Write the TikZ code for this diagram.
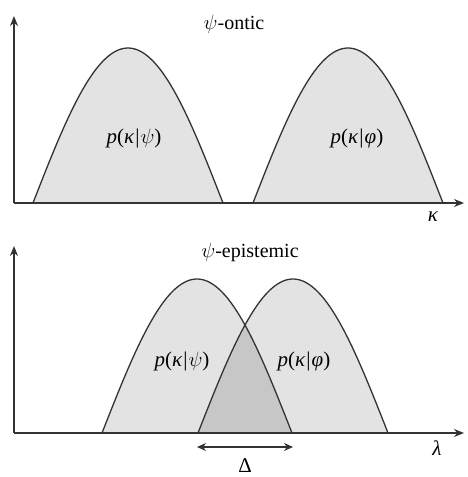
\documentclass[tikz,border=0pt]{standalone}
\usepackage{fontspec}
\setmainfont{Liberation Serif}
\usetikzlibrary{arrows.meta}
\definecolor{bumpfill}{gray}{0.89}
\definecolor{overfill}{gray}{0.78}
\definecolor{linecol}{gray}{0.2}
\tikzset{
  axis/.style={line width=1.6pt, draw=linecol, -{Stealth[length=10pt,width=8pt]}},
  curve/.style={line width=1.3pt, draw=linecol},
  lbl/.style={font=\fontsize{21}{24}\selectfont, inner sep=0pt},
  ttl/.style={font=\fontsize{20}{24}\selectfont, inner sep=0pt},
  deltaarrow/.style={line width=1.3pt, draw=linecol, {Stealth[length=9pt,width=8pt]}-{Stealth[length=9pt,width=8pt]}}
}
\newcommand{\bump}[3]{plot[domain=0:180, samples=80] ({#1+\x/180*190}, {#2-#3*sin(\x)}) -- cycle}
\newcommand{\plabel}[1]{\textit{p}(\textit{κ}\kern1pt|\kern1pt#1)}
\begin{document}
\begin{tikzpicture}[x=1pt,y=-1pt]
\useasboundingbox (0,0) rectangle (467,477);
% ---------- top: psi-ontic ----------
\fill[bumpfill] \bump{33}{203}{155};
\fill[bumpfill] \bump{253}{203}{155};
\draw[curve] plot[domain=0:180, samples=80] ({33+\x/180*190}, {203-155*sin(\x)});
\draw[curve] plot[domain=0:180, samples=80] ({253+\x/180*190}, {203-155*sin(\x)});
\coordinate (o1) at (14,203);
\coordinate (y1) at (14,16);
\coordinate (x1) at (464,203);
\draw[axis] (o1) -- (y1);
\draw[axis] (o1) -- (x1);
\node[ttl] (t1) at (234,24) {$\psi$-ontic};
\node[lbl] (pa) at (134,138) {\plabel{$\psi$}};
\node[lbl] (pb) at (357,138) {\plabel{\textit{φ}}};
\node[lbl] (k) at (433,217) {\textit{κ}};
% ---------- bottom: psi-epistemic ----------
\fill[bumpfill] \bump{102}{433}{154};
\fill[bumpfill] \bump{198}{433}{154};
\begin{scope}
  \clip \bump{102}{433}{154};
  \fill[overfill] \bump{198}{433}{154};
\end{scope}
\draw[curve] plot[domain=0:180, samples=80] ({102+\x/180*190}, {433-154*sin(\x)});
\draw[curve] plot[domain=0:180, samples=80] ({198+\x/180*190}, {433-154*sin(\x)});
\coordinate (o2) at (14,433);
\coordinate (y2) at (14,246);
\coordinate (x2) at (464,433);
\draw[axis] (o2) -- (y2);
\draw[axis] (o2) -- (x2);
\node[ttl] (t2) at (250,252) {$\psi$-epistemic};
\node[lbl] (pc) at (182,361) {\plabel{$\psi$}};
\node[lbl] (pd) at (304,361) {\plabel{\textit{φ}}};
\node[lbl] (l) at (437,448) {\textit{λ}};
\coordinate (d1) at (197,447);
\coordinate (d2) at (293,447);
\draw[deltaarrow] (d1) -- (d2);
\node[lbl] (dl) at (245,466) {Δ};
\end{tikzpicture}
\end{document}
